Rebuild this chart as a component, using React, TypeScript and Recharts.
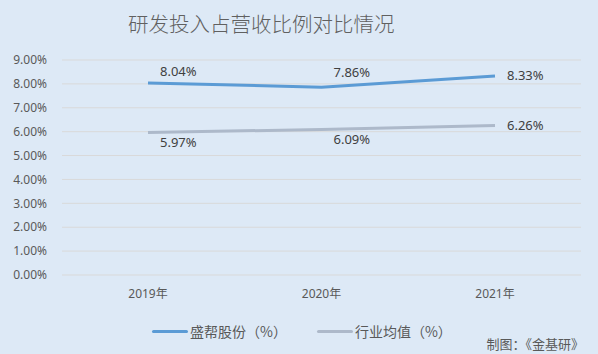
import React from "react";
import { LineChart, Line, XAxis, YAxis, CartesianGrid, LabelList } from "recharts";

const years = ["2019年", "2020年", "2021年"];
const shengbang = [8.04, 7.86, 8.33];
const industry = [5.97, 6.09, 6.26];
const yTicks = [0, 1, 2, 3, 4, 5, 6, 7, 8, 9];

const data = years.map((year, i) => ({
  year,
  shengbang: shengbang[i],
  industry: industry[i],
}));

const BLUE = "#5b9bd5";
const GRAY = "#adb9ca";
const TEXT = "#595959";
const FONT = "'Noto Sans', 'Noto Sans CJK SC', sans-serif";

// label placement: first two points above/below, last one to the right
function makeLabel(side: "above" | "below") {
  return (props: any) => {
    const { x, y, value, index } = props;
    let dy = side === "above" ? (index === 1 ? -14 : -10) : 11;
    if (index === years.length - 1) dy = 1;
    return (
      <text
        x={x + 12}
        y={y + dy}
        fill="#404040"
        fontSize={13}
        fontFamily={FONT}
        dominantBaseline="middle"
      >
        {Number(value).toFixed(2)}%
      </text>
    );
  };
}

export default function App() {
  return (
    <div
      style={{
        position: "fixed",
        left: 0,
        top: 0,
        width: 598,
        height: 354,
        background: "#dde9f6",
        fontFamily: FONT,
      }}
    >
      <div
        style={{
          position: "absolute",
          left: 128,
          top: 8,
          fontSize: 20.5,
          fontWeight: 300,
          color: "#606060",
          fontFamily: "'Noto Sans CJK SC', sans-serif",
          whiteSpace: "nowrap",
        }}
      >
        研发投入占营收比例对比情况
      </div>
      <LineChart
        width={598}
        height={354}
        data={data}
        margin={{ top: 60, right: 17, bottom: 49, left: 0 }}
      >
        <CartesianGrid vertical={false} stroke="#d9d9d9" />
        <XAxis
          dataKey="year"
          axisLine={false}
          tickLine={false}
          tickSize={0}
          tickMargin={14}
          height={30}
          padding={{ left: 86, right: 86 }}
          tick={{ fill: TEXT, fontSize: 12, fontFamily: FONT }}
        />
        <YAxis
          domain={[0, 9]}
          ticks={yTicks}
          interval={0}
          width={62}
          axisLine={false}
          tickLine={false}
          tickSize={0}
          tickMargin={15}
          tickFormatter={(v: number) => `${v.toFixed(2)}%`}
          tick={{ fill: TEXT, fontSize: 12, fontFamily: FONT }}
        />
        <Line
          type="linear"
          dataKey="shengbang"
          stroke={BLUE}
          strokeWidth={3}
          dot={false}
          isAnimationActive={false}
        >
          <LabelList dataKey="shengbang" content={makeLabel("above")} />
        </Line>
        <Line
          type="linear"
          dataKey="industry"
          stroke={GRAY}
          strokeWidth={3}
          dot={false}
          isAnimationActive={false}
        >
          <LabelList dataKey="industry" content={makeLabel("below")} />
        </Line>
      </LineChart>
      <div
        style={{
          position: "absolute",
          left: 152,
          top: 321,
          display: "flex",
          alignItems: "center",
          fontSize: 14,
          color: TEXT,
          fontFamily: "'Noto Sans CJK SC', sans-serif",
          whiteSpace: "nowrap",
        }}
      >
        <span style={{ width: 36, height: 3, background: BLUE, borderRadius: 2, marginRight: 2 }} />
        <span>盛帮股份（%）</span>
        <span style={{ width: 36, height: 3, background: GRAY, borderRadius: 2, marginLeft: 30, marginRight: 2 }} />
        <span>行业均值（%）</span>
      </div>
      <div
        style={{
          position: "absolute",
          right: 14,
          top: 334,
          fontSize: 13,
          color: TEXT,
          fontFamily: "'Noto Sans CJK SC', sans-serif",
          whiteSpace: "nowrap",
        }}
      >
        制图：《金基研》
      </div>
    </div>
  );
}
